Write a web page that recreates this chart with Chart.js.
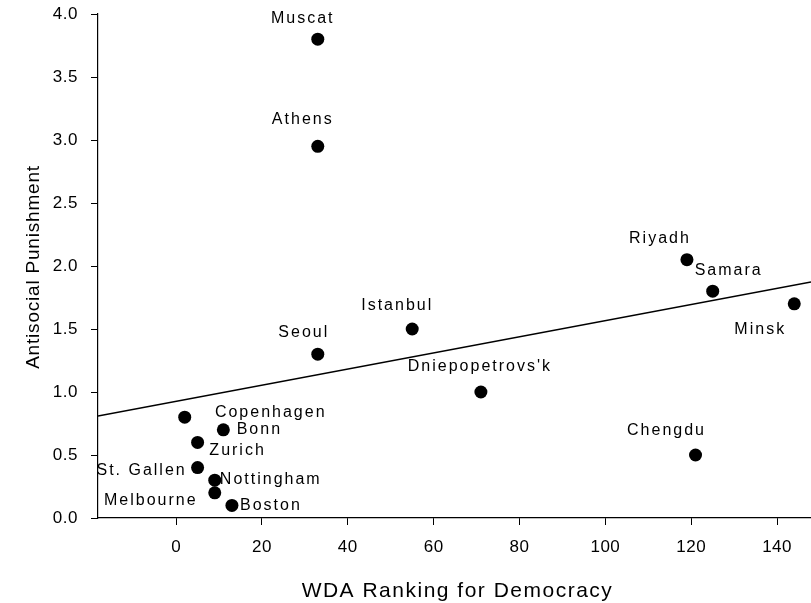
<!DOCTYPE html>
<html>
<head>
<meta charset="utf-8">
<script src="https://cdn.jsdelivr.net/npm/chart.js@4.4.0/dist/chart.umd.min.js"></script>
<style>
  html, body { margin: 0; padding: 0; background: #fff; }
</style>
</head>
<body>
<canvas id="punishChart" width="811" height="603"></canvas>
<script>
// city data
const cities = ['Muscat', 'Athens', 'Riyadh', 'Samara', 'Minsk', 'Istanbul', 'Seoul', "Dniepopetrovs'k",
    'Chengdu', 'Copenhagen', 'Bonn', 'Zurich', 'St. Gallen', 'Nottingham', 'Melbourne', 'Boston'];
const wdaRank = [33, 33, 119, 125, 144, 55, 33, 71, 121, 2, 11, 5, 5, 9, 9, 13];
const antisocial = [3.8, 2.95, 2.05, 1.8, 1.7, 1.5, 1.3, 1.0, 0.5, 0.8, 0.7, 0.6, 0.4, 0.3, 0.2, 0.1];

// regression line end points
const fitX = [-18.2, 147.9];
const fitY = [0.81, 1.873];

const xTickValues = [0, 20, 40, 60, 80, 100, 120, 140];

const xTitle = 'WDA Ranking for Democracy';
const yTitle = 'Antisocial Punishment';

// where each city name sits relative to its dot (px)
const labelOffsets = [
    [-15, -21], [-15, -27], [-27, -21], [16, -21], [-34, 26], [-15, -23], [-14, -22], [-1, -25],
    [-29, -24], [86, -5], [36, 0], [40, 8], [-56, 3], [56, -1], [-64, 8], [39, 0]
];

const FONT = "'Liberation Sans', Arial, sans-serif";

const spacingPlugin = {
    id: 'spacing',
    beforeDraw(chart) {
        chart.ctx.letterSpacing = '0.5px';
    }
};

// axis titles drawn by hand so the letter spacing can match
const axisTitles = {
    id: 'axisTitles',
    afterDraw(chart) {
        const ctx = chart.ctx;
        const xs = chart.scales.x;
        const ys = chart.scales.y;
        ctx.save();
        ctx.fillStyle = '#000';
        ctx.textAlign = 'center';
        ctx.textBaseline = 'alphabetic';
        ctx.font = '21px ' + FONT;
        ctx.letterSpacing = '1.5px';
        ctx.fillText(xTitle, (xs.left + xs.right) / 2 + 3, xs.bottom - 6);
        ctx.font = '19px ' + FONT;
        ctx.letterSpacing = '0.8px';
        ctx.translate(ys.left + 39, (ys.top + ys.bottom) / 2 + 1);
        ctx.rotate(-Math.PI / 2);
        ctx.fillText(yTitle, 0, 0);
        ctx.restore();
    }
};

const cityLabels = {
    id: 'cityLabels',
    afterDatasetsDraw(chart) {
        const ctx = chart.ctx;
        const meta = chart.getDatasetMeta(0);
        ctx.save();
        ctx.letterSpacing = '2px';
        ctx.font = '16px ' + FONT;
        ctx.fillStyle = '#000';
        ctx.textAlign = 'center';
        ctx.textBaseline = 'middle';
        meta.data.forEach((pt, i) => {
            ctx.fillText(cities[i], pt.x + labelOffsets[i][0], pt.y + labelOffsets[i][1]);
        });
        ctx.restore();
    }
};

const ctxPunish = document.getElementById('punishChart').getContext('2d');
const punishChart = new Chart(ctxPunish, {
    type: 'scatter',
    data: {
        datasets: [{
            label: 'Cities',
            data: wdaRank.map((x, i) => ({ x: x, y: antisocial[i] })),
            backgroundColor: '#000',
            borderWidth: 0,
            pointRadius: 6.5
        },
        {
            type: 'line',
            label: 'Fit',
            data: fitX.map((x, i) => ({ x: x, y: fitY[i] })),
            borderColor: '#000',
            borderWidth: 1.4,
            pointRadius: 0,
            fill: false
        }]
    },
    options: {
        responsive: false,
        animation: false,
        layout: { autoPadding: false, padding: { top: 14, right: 0, left: 0, bottom: 0 } },
        plugins: {
            legend: { display: false },
            tooltip: { enabled: false }
        },
        scales: {
            x: {
                type: 'linear',
                min: -18.2,
                max: 147.9,
                afterBuildTicks: (scale) => {
                    scale.ticks = xTickValues.map(v => ({ value: v }));
                },
                afterFit: (scale) => {
                    scale.height = 85;
                    scale.paddingLeft = 0;
                    scale.paddingRight = 0;
                },
                grid: { drawOnChartArea: false, tickLength: 7, color: '#000', lineWidth: 1 },
                border: { color: '#000', width: 1.2 },
                ticks: { color: '#000', font: { family: FONT, size: 17 }, padding: 12, maxRotation: 0 }
            },
            y: {
                min: 0,
                max: 4,
                afterFit: (scale) => {
                    scale.width = 98;
                    scale.paddingTop = 0;
                    scale.paddingBottom = 0;
                },
                grid: { drawOnChartArea: false, tickLength: 7, color: '#000', lineWidth: 1 },
                border: { color: '#000', width: 1.2 },
                ticks: {
                    stepSize: 0.5,
                    color: '#000',
                    font: { family: FONT, size: 17 },
                    padding: 13,
                    callback: (v) => v.toFixed(1)
                }
            }
        }
    },
    plugins: [spacingPlugin, cityLabels, axisTitles]
});
</script>
</body>
</html>
